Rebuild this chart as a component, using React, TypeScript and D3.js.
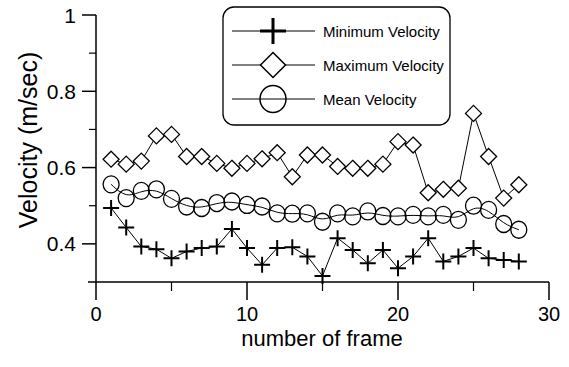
import React, { useEffect, useRef } from 'react';
import * as d3 from 'd3';

// frame numbers 1..28
const frames = [1, 2, 3, 4, 5, 6, 7, 8, 9, 10, 11, 12, 13, 14, 15, 16, 17, 18, 19, 20, 21, 22, 23, 24, 25, 26, 27, 28];

const minVelocity = [0.494, 0.443, 0.393, 0.386, 0.362, 0.380, 0.389, 0.393, 0.439, 0.389, 0.345, 0.389, 0.391, 0.367,
  0.316, 0.415, 0.384, 0.349, 0.384, 0.336, 0.367, 0.415, 0.354, 0.367, 0.389, 0.362, 0.358, 0.354];

const maxVelocity = [0.622, 0.609, 0.617, 0.683, 0.687, 0.629, 0.629, 0.611, 0.598, 0.611, 0.623, 0.639, 0.576, 0.633,
  0.633, 0.603, 0.598, 0.598, 0.609, 0.668, 0.659, 0.534, 0.543, 0.546, 0.742, 0.629, 0.520, 0.555];

const meanVelocity = [0.556, 0.520, 0.539, 0.543, 0.518, 0.498, 0.494, 0.507, 0.511, 0.502, 0.498, 0.480, 0.479, 0.480,
  0.458, 0.480, 0.472, 0.485, 0.473, 0.472, 0.476, 0.472, 0.476, 0.463, 0.500, 0.489, 0.452, 0.437];

const xTicks = [0, 10, 20, 30];
const xMinorTicks = [5, 15, 25];
const yTicks = [0.4, 0.6, 0.8, 1];
const yMinorTicks = [0.5, 0.7, 0.9];
const legendLabels = ['Minimum Velocity', 'Maximum Velocity', 'Mean Velocity'];

const FONT = "'Liberation Sans', Arial, Helvetica, sans-serif";

const App = () => {
  const svgRef = useRef<SVGSVGElement>(null);

  useEffect(() => {
    const svg = d3.select(svgRef.current);
    svg.selectAll('*').remove();

    const width = 569;
    const height = 367;
    svg.attr('width', width).attr('height', height);

    const x = d3.scaleLinear().domain([0, 30]).range([96, 549]);
    const y = d3.scaleLinear().domain([0.3, 1]).range([282, 15]);

    const g = svg.append('g');

    // axes lines
    g.append('line')
      .attr('x1', 88).attr('x2', x(30))
      .attr('y1', y(0.3)).attr('y2', y(0.3))
      .attr('stroke', '#000').attr('stroke-width', 1.5);
    g.append('line')
      .attr('x1', x(0)).attr('x2', x(0))
      .attr('y1', y(1)).attr('y2', y(0.3))
      .attr('stroke', '#000').attr('stroke-width', 1.5);

    // x ticks
    g.selectAll('.xt').data(xTicks).enter().append('line')
      .attr('x1', d => x(d)).attr('x2', d => x(d))
      .attr('y1', y(0.3)).attr('y2', y(0.3) + 18)
      .attr('stroke', '#000').attr('stroke-width', 1.5);
    g.selectAll('.xm').data(xMinorTicks).enter().append('line')
      .attr('x1', d => x(d)).attr('x2', d => x(d))
      .attr('y1', y(0.3)).attr('y2', y(0.3) + 9)
      .attr('stroke', '#000').attr('stroke-width', 1.2);
    g.selectAll('.xl').data(xTicks).enter().append('text')
      .attr('x', d => x(d)).attr('y', 321)
      .attr('text-anchor', 'middle')
      .style('font-family', FONT).style('font-size', '20px')
      .text(d => d);

    // y ticks
    g.selectAll('.yt').data(yTicks).enter().append('line')
      .attr('x1', x(0) - 14).attr('x2', x(0))
      .attr('y1', d => y(d)).attr('y2', d => y(d))
      .attr('stroke', '#000').attr('stroke-width', 1.5);
    g.selectAll('.ym').data(yMinorTicks).enter().append('line')
      .attr('x1', x(0) - 7).attr('x2', x(0))
      .attr('y1', d => y(d)).attr('y2', d => y(d))
      .attr('stroke', '#000').attr('stroke-width', 1.2);
    g.selectAll('.yl').data(yTicks).enter().append('text')
      .attr('x', 76).attr('y', d => y(d) + 7.5)
      .attr('text-anchor', 'end')
      .style('font-family', FONT).style('font-size', '21px')
      .text(d => (d === 1 ? '1' : d3.format('.1f')(d)));

    // axis titles
    g.append('text')
      .attr('x', 322).attr('y', 346)
      .attr('text-anchor', 'middle')
      .style('font-family', FONT).style('font-size', '22px')
      .text('number of frame');
    g.append('text')
      .attr('transform', 'translate(37,140) rotate(-90)')
      .attr('text-anchor', 'middle')
      .style('font-family', FONT).style('font-size', '25px')
      .text('Velocity (m/sec)');

    const line = d3.line<number>()
      .x((_, i) => x(frames[i]))
      .y(d => y(d));

    // min series
    g.append('path').datum(minVelocity)
      .attr('d', line).attr('fill', 'none').attr('stroke', '#000').attr('stroke-width', 1);
    const plus = (s: number) => `M${-s},0H${s}M0,${-s}V${s}`;
    g.selectAll('.pm').data(minVelocity).enter().append('path')
      .attr('transform', (d, i) => `translate(${x(frames[i])},${y(d)})`)
      .attr('d', plus(8)).attr('stroke', '#000').attr('stroke-width', 2).attr('fill', 'none');

    // max series
    g.append('path').datum(maxVelocity)
      .attr('d', line).attr('fill', 'none').attr('stroke', '#000').attr('stroke-width', 1);
    const diamond = (s: number) => `M0,${-s}L${s},0L0,${s}L${-s},0Z`;
    g.selectAll('.dm').data(maxVelocity).enter().append('path')
      .attr('transform', (d, i) => `translate(${x(frames[i])},${y(d)})`)
      .attr('d', diamond(8)).attr('stroke', '#000').attr('stroke-width', 1.3).attr('fill', '#fff');

    // mean series (smoothed line)
    g.append('path').datum(meanVelocity)
      .attr('d', line.curve(d3.curveBasis)).attr('fill', 'none').attr('stroke', '#000').attr('stroke-width', 1);
    g.selectAll('.cm').data(meanVelocity).enter().append('ellipse')
      .attr('cx', (d, i) => x(frames[i])).attr('cy', d => y(d))
      .attr('rx', 8).attr('ry', 8.5)
      .attr('stroke', '#000').attr('stroke-width', 1.3).attr('fill', 'none');

    // legend
    const lg = g.append('g');
    lg.append('rect')
      .attr('x', 223).attr('y', 7).attr('width', 227).attr('height', 118)
      .attr('rx', 11).attr('fill', '#fff').attr('stroke', '#000').attr('stroke-width', 1.3);
    const rows = [31, 65, 99];
    legendLabels.forEach((label, i) => {
      const ry = rows[i];
      lg.append('line').attr('x1', 232).attr('x2', 315).attr('y1', ry).attr('y2', ry)
        .attr('stroke', '#000').attr('stroke-width', 1);
      if (i === 0) {
        lg.append('path').attr('transform', `translate(273,${ry})`).attr('d', plus(13))
          .attr('stroke', '#000').attr('stroke-width', 3).attr('fill', 'none');
      } else if (i === 1) {
        lg.append('path').attr('transform', `translate(273,${ry})`).attr('d', diamond(12.5))
          .attr('stroke', '#000').attr('stroke-width', 1.5).attr('fill', '#fff');
      } else {
        lg.append('ellipse').attr('cx', 273).attr('cy', ry).attr('rx', 13).attr('ry', 13.5)
          .attr('stroke', '#000').attr('stroke-width', 1.5).attr('fill', 'none');
      }
      lg.append('text').attr('x', 323).attr('y', ry + 5.5)
        .style('font-family', FONT).style('font-size', '15px')
        .text(label);
    });
  }, []);

  return <svg ref={svgRef} style={{ position: 'absolute', left: 0, top: 0, background: '#fff' }} />;
};

export default App;
